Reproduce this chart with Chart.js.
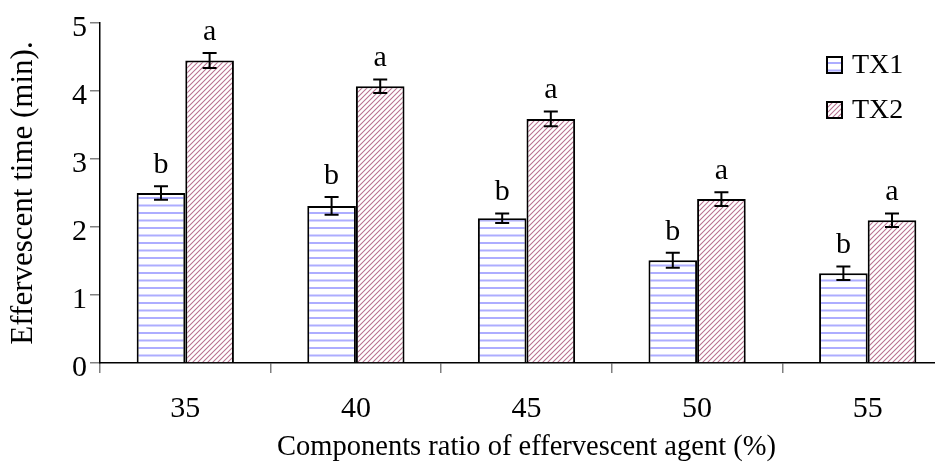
<!DOCTYPE html>
<html>
<head>
<meta charset="utf-8">
<script src="https://cdn.jsdelivr.net/npm/chart.js@4/dist/chart.umd.min.js"></script>
<style>
html, body { margin: 0; padding: 0; background: #fff; overflow: hidden; }
#wrap { position: relative; width: 960px; height: 465px; }
</style>
</head>
<body>
<div id="wrap"><canvas id="chart"></canvas></div>
<script>
var categories = ['35', '40', '45', '50', '55'];
var tx1Values = [2.50, 2.31, 2.13, 1.51, 1.32];
var tx2Values = [4.45, 4.07, 3.59, 2.41, 2.10];
var tx1Errors = [0.10, 0.13, 0.07, 0.11, 0.10];
var tx2Errors = [0.11, 0.10, 0.11, 0.10, 0.10];
var tx1Letters = ['b', 'b', 'b', 'b', 'b'];
var tx2Letters = ['a', 'a', 'a', 'a', 'a'];

var FONT = "'Liberation Serif', 'Times New Roman', serif";

// horizontal blue lines
function hLines() {
    var c = document.createElement('canvas');
    c.width = 8; c.height = 15;
    var x = c.getContext('2d');
    x.fillStyle = '#fff';
    x.fillRect(0, 0, 8, 15);
    x.fillStyle = '#adadff';
    x.fillRect(0, 2, 8, 2);
    x.fillRect(0, 9.5, 8, 2);
    return x.createPattern(c, 'repeat');
}

// "/" stripes, maroon
function dLines() {
    var s = 5;
    var c = document.createElement('canvas');
    c.width = s; c.height = s;
    var x = c.getContext('2d');
    x.fillStyle = '#fff';
    x.fillRect(0, 0, s, s);
    x.strokeStyle = '#b8708f';
    x.lineWidth = 1.05;
    x.beginPath();
    x.moveTo(0, s); x.lineTo(s, 0);
    x.moveTo(-1, 1); x.lineTo(1, -1);
    x.moveTo(s - 1, s + 1); x.lineTo(s + 1, s - 1);
    x.stroke();
    return x.createPattern(c, 'repeat');
}

var errorPlugin = {
    id: 'errbars',
    afterDatasetsDraw: function (chart) {
        var ctx = chart.ctx;
        var y = chart.scales.y;
        var errs = [tx1Errors, tx2Errors];
        var letters = [tx1Letters, tx2Letters];
        ctx.save();
        chart.data.datasets.forEach(function (ds, di) {
            var meta = chart.getDatasetMeta(di);
            meta.data.forEach(function (bar, i) {
                var v = ds.data[i];
                var top = y.getPixelForValue(v + errs[di][i]);
                var bot = y.getPixelForValue(v - errs[di][i]);
                ctx.strokeStyle = '#000';
                ctx.lineWidth = 2;
                ctx.beginPath();
                ctx.moveTo(bar.x, top); ctx.lineTo(bar.x, bot);
                ctx.moveTo(bar.x - 7, top); ctx.lineTo(bar.x + 7, top);
                ctx.moveTo(bar.x - 7, bot); ctx.lineTo(bar.x + 7, bot);
                ctx.stroke();
                ctx.fillStyle = '#000';
                ctx.font = '30px ' + FONT;
                ctx.textAlign = 'center';
                ctx.textBaseline = 'alphabetic';
                ctx.fillText(letters[di][i], bar.x, top - 13);
            });
        });
        ctx.restore();
    }
};

var legendPlugin = {
    id: 'boxlegend',
    afterDraw: function (chart) {
        var ctx = chart.ctx;
        ctx.save();
        chart.data.datasets.forEach(function (ds, i) {
            var cy = 65 + i * 45;
            ctx.fillStyle = ds.backgroundColor;
            ctx.fillRect(827, cy - 8, 15, 16);
            ctx.strokeStyle = '#000';
            ctx.lineWidth = 2;
            ctx.strokeRect(827, cy - 8, 15, 16);
            ctx.fillStyle = '#000';
            ctx.font = '28px ' + FONT;
            ctx.textAlign = 'left';
            ctx.textBaseline = 'middle';
            ctx.fillText(ds.label, 852, cy + 1);
        });
        ctx.restore();
    }
};

var ctx = document.getElementById('chart').getContext('2d');
Chart.defaults.font.family = FONT;
Chart.defaults.color = '#000';

var chart = new Chart(ctx, {
    type: 'bar',
    data: {
        labels: categories,
        datasets: [
            {
                label: 'TX1',
                data: tx1Values,
                backgroundColor: hLines(),
                borderColor: '#000',
                borderWidth: 2,
                categoryPercentage: 0.57,
                barPercentage: 1.0
            },
            {
                label: 'TX2',
                data: tx2Values,
                backgroundColor: dLines(),
                borderColor: '#000',
                borderWidth: 2,
                categoryPercentage: 0.57,
                barPercentage: 1.0
            }
        ]
    },
    options: {
        responsive: true,
        maintainAspectRatio: false,
        animation: false,
        layout: { padding: { top: 23, right: 7, left: 0, bottom: 0 } },
        plugins: {
            legend: { display: false },
            tooltip: { enabled: false }
        },
        scales: {
            x: {
                offset: true,
                grid: { display: true, drawOnChartArea: false, offset: true, tickLength: 10, color: '#808080', lineWidth: 1.5 },
                border: { color: '#000', width: 1.5 },
                ticks: { font: { size: 30 }, padding: 18, color: '#000' },
                title: { display: true, text: 'Components ratio of effervescent agent (%)', font: { size: 28.5 }, padding: { top: 0, bottom: 0 }, color: '#000' },
                afterFit: function (s) { s.height = 102; }
            },
            y: {
                min: 0,
                max: 5,
                ticks: { stepSize: 1, font: { size: 30 }, padding: 3, labelOffset: 5, color: '#000' },
                grid: { display: true, drawOnChartArea: false, tickLength: 10, color: '#808080', lineWidth: 1.5 },
                border: { color: '#000', width: 1.5 },
                title: { display: true, text: 'Effervescent time (min).', font: { size: 31 }, padding: { top: 5, bottom: 0 }, color: '#000' },
                afterFit: function (s) { s.width = 100; }
            }
        }
    },
    plugins: [errorPlugin, legendPlugin]
});
</script>
</body>
</html>
